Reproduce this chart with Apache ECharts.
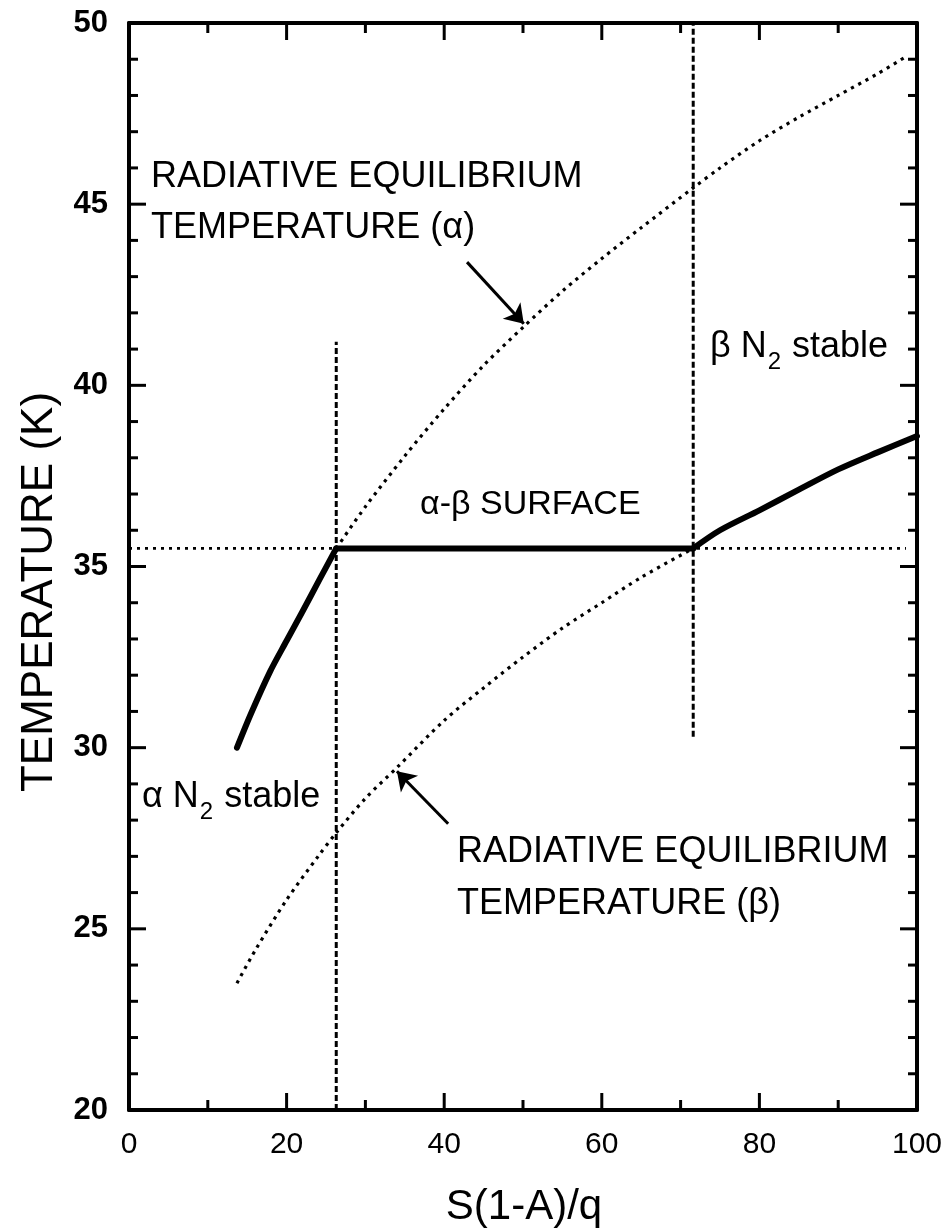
<!DOCTYPE html>
<html>
<head>
<meta charset="utf-8">
<script src="https://cdn.jsdelivr.net/npm/echarts@6/dist/echarts.min.js"></script>
<style>
  html, body { margin: 0; padding: 0; background: #fff; }
  #chart { width: 950px; height: 1228px; }
</style>
</head>
<body>
<div id="chart"></div>
<script>
// values
const alphaSideX = [13.7, 15.5, 17.9, 20.0, 22.0, 24.2, 26.3]
const alphaSideT = [30.0, 30.95, 32.1, 32.95, 33.75, 34.65, 35.5]
const plateauX = [26.3, 71.6]
const plateauT = [35.5, 35.5]
const betaSideX = [71.6, 75.0, 80.0, 85.0, 90.0, 95.0, 100.0]
const betaSideT = [35.5, 36.0, 36.55, 37.12, 37.68, 38.15, 38.6]

const alphaRadX = [26.3, 30, 35, 40, 45, 50, 55, 60, 65, 71.6, 75, 80, 85, 90, 95, 98.8]
const alphaRadT = [35.5, 36.65, 38.05, 39.35, 40.55, 41.6, 42.6, 43.5, 44.35, 45.45, 46.0, 46.75, 47.4, 48.0, 48.6, 49.1]

const betaRadX = [13.7, 16, 20, 24, 26.3, 30, 34, 40, 45, 50, 55, 60, 65, 71.6]
const betaRadT = [23.5, 24.4, 25.8, 27.0, 27.65, 28.6, 29.45, 30.75, 31.65, 32.5, 33.3, 34.0, 34.7, 35.5]

const transitionT = 35.5
const transitionLineX = [0, 98.6]
const alphaEdge = { x: 26.3, t: [20, 41.2] }
const betaEdge = { x: 71.6, t: [30.3, 50] }

const arrowAlpha = [[42.9, 43.4], [50.1, 41.7]]
const arrowBeta = [[40.5, 27.9], [34.0, 29.35]]

// tick marks (all four sides, pointing inward)
const xTickValues = [0, 10, 20, 30, 40, 50, 60, 70, 80, 90, 100]
const yTickValues = [20, 21, 22, 23, 24, 25, 26, 27, 28, 29, 30, 31, 32, 33, 34, 35,
  36, 37, 38, 39, 40, 41, 42, 43, 44, 45, 46, 47, 48, 49, 50]

const font = '"Liberation Sans", Arial, Helvetica, sans-serif'

function zip(xs, ys) {
  return xs.map((x, i) => [x, ys[i]])
}

const chart = echarts.init(document.getElementById('chart'))

const axisLine = { show: true, onZero: false, lineStyle: { color: '#000', width: 4 } }
const noTicks = { show: false }

const dotted = { color: '#000', width: 3.2, type: [3.2, 5] }
const dashed = { color: '#000', width: 3, type: [6, 3] }
const solid = { color: '#000', width: 6, cap: 'round', join: 'round' }

function tickLine(x1, y1, x2, y2) {
  return { type: 'line', shape: { x1, y1, x2, y2 }, style: { stroke: '#000', lineWidth: 3 } }
}

chart.setOption({
  animation: false,
  backgroundColor: '#fff',
  grid: { left: 129, right: 33, top: 23, bottom: 118 },
  xAxis: [
    {
      type: 'value', min: 0, max: 100, interval: 20, position: 'bottom',
      axisLine, axisTick: noTicks, minorTick: noTicks, splitLine: { show: false },
      axisLabel: { show: true, margin: 20, color: '#000', fontSize: 30, fontFamily: font }
    },
    {
      type: 'value', min: 0, max: 100, interval: 20, position: 'top',
      axisLine, axisTick: noTicks, splitLine: { show: false }, axisLabel: { show: false }
    }
  ],
  yAxis: [
    {
      type: 'value', min: 20, max: 50, interval: 5, position: 'left',
      axisLine, axisTick: noTicks, minorTick: noTicks, splitLine: { show: false },
      axisLabel: { show: true, margin: 21, color: '#000', fontSize: 31, fontWeight: 'bold', fontFamily: font }
    },
    {
      type: 'value', min: 20, max: 50, interval: 5, position: 'right',
      axisLine, axisTick: noTicks, splitLine: { show: false }, axisLabel: { show: false }
    }
  ],
  series: [
    {
      name: 'x ticks',
      type: 'custom',
      clip: false,
      silent: true,
      data: xTickValues.map(v => [v, 20]),
      renderItem(params, api) {
        const cs = params.coordSys
        const px = api.coord([api.value(0), 20])[0]
        const len = api.value(0) % 20 === 0 ? 17 : 10
        const bottom = cs.y + cs.height
        return {
          type: 'group',
          children: [
            tickLine(px, bottom, px, bottom - len),
            tickLine(px, cs.y, px, cs.y + len)
          ]
        }
      }
    },
    {
      name: 'y ticks',
      type: 'custom',
      clip: false,
      silent: true,
      data: yTickValues.map(v => [0, v]),
      renderItem(params, api) {
        const cs = params.coordSys
        const py = api.coord([0, api.value(1)])[1]
        const len = api.value(1) % 5 === 0 ? 17 : 9
        const right = cs.x + cs.width
        return {
          type: 'group',
          children: [
            tickLine(cs.x, py, cs.x + len, py),
            tickLine(right, py, right - len, py)
          ]
        }
      }
    },
    {
      name: 'transition',
      type: 'line',
      data: transitionLineX.map(x => [x, transitionT]),
      symbol: 'none',
      lineStyle: { color: '#000', width: 2.8, type: [3, 5] },
      silent: true
    },
    {
      name: 'alpha edge',
      type: 'line',
      data: alphaEdge.t.map(t => [alphaEdge.x, t]),
      symbol: 'none',
      lineStyle: dashed,
      silent: true
    },
    {
      name: 'beta edge',
      type: 'line',
      data: betaEdge.t.map(t => [betaEdge.x, t]),
      symbol: 'none',
      lineStyle: dashed,
      silent: true
    },
    {
      name: 'radiative alpha',
      type: 'line',
      data: zip(alphaRadX, alphaRadT),
      symbol: 'none',
      smooth: 0.3,
      lineStyle: dotted,
      silent: true
    },
    {
      name: 'radiative beta',
      type: 'line',
      data: zip(betaRadX, betaRadT),
      symbol: 'none',
      smooth: 0.3,
      lineStyle: dotted,
      silent: true
    },
    {
      name: 'surface alpha side',
      type: 'line',
      data: zip(alphaSideX, alphaSideT),
      symbol: 'none',
      smooth: 0.3,
      lineStyle: solid,
      silent: true
    },
    {
      name: 'surface plateau',
      type: 'line',
      data: zip(plateauX, plateauT),
      symbol: 'none',
      lineStyle: solid,
      silent: true
    },
    {
      name: 'surface beta side',
      type: 'line',
      data: zip(betaSideX, betaSideT),
      symbol: 'none',
      smooth: 0.3,
      lineStyle: solid,
      silent: true,
      markLine: {
        silent: true,
        symbol: ['none', 'arrow'],
        symbolSize: 18,
        label: { show: false },
        lineStyle: { color: '#000', width: 3, type: 'solid' },
        data: [
          [{ coord: arrowAlpha[0] }, { coord: arrowAlpha[1] }],
          [{ coord: arrowBeta[0] }, { coord: arrowBeta[1] }]
        ]
      }
    }
  ],
  graphic: [
    {
      type: 'text', x: 40, y: 592, rotation: Math.PI / 2,
      style: { text: 'TEMPERATURE (K)', font: '44px ' + font, fill: '#000', align: 'center', verticalAlign: 'middle' }
    },
    {
      type: 'text', x: 524, y: 1207,
      style: { text: 'S(1-A)/q', font: '42px ' + font, fill: '#000', align: 'center', verticalAlign: 'middle' }
    },
    {
      type: 'text', x: 151, y: 177,
      style: { text: 'RADIATIVE EQUILIBRIUM', font: '36px ' + font, fill: '#000', align: 'left', verticalAlign: 'middle' }
    },
    {
      type: 'text', x: 151, y: 228,
      style: { text: 'TEMPERATURE (α)', font: '36px ' + font, fill: '#000', align: 'left', verticalAlign: 'middle' }
    },
    {
      type: 'text', x: 457, y: 852,
      style: { text: 'RADIATIVE EQUILIBRIUM', font: '36px ' + font, fill: '#000', align: 'left', verticalAlign: 'middle' }
    },
    {
      type: 'text', x: 457, y: 904,
      style: { text: 'TEMPERATURE (β)', font: '36px ' + font, fill: '#000', align: 'left', verticalAlign: 'middle' }
    },
    {
      type: 'text', x: 420, y: 505,
      style: { text: 'α-β SURFACE', font: '34px ' + font, fill: '#000', align: 'left', verticalAlign: 'middle' }
    },
    {
      type: 'text', x: 710, y: 347,
      style: {
        text: '{n|β N}{s|2}{n| stable}',
        align: 'left', verticalAlign: 'middle',
        rich: {
          n: { fontSize: 36, fontFamily: font, color: '#000' },
          s: { fontSize: 24, fontFamily: font, color: '#000', padding: [30, 1, 0, 1] }
        }
      }
    },
    {
      type: 'text', x: 142, y: 797,
      style: {
        text: '{n|α N}{s|2}{n| stable}',
        align: 'left', verticalAlign: 'middle',
        rich: {
          n: { fontSize: 36, fontFamily: font, color: '#000' },
          s: { fontSize: 24, fontFamily: font, color: '#000', padding: [30, 1, 0, 1] }
        }
      }
    }
  ]
})
</script>
</body>
</html>
